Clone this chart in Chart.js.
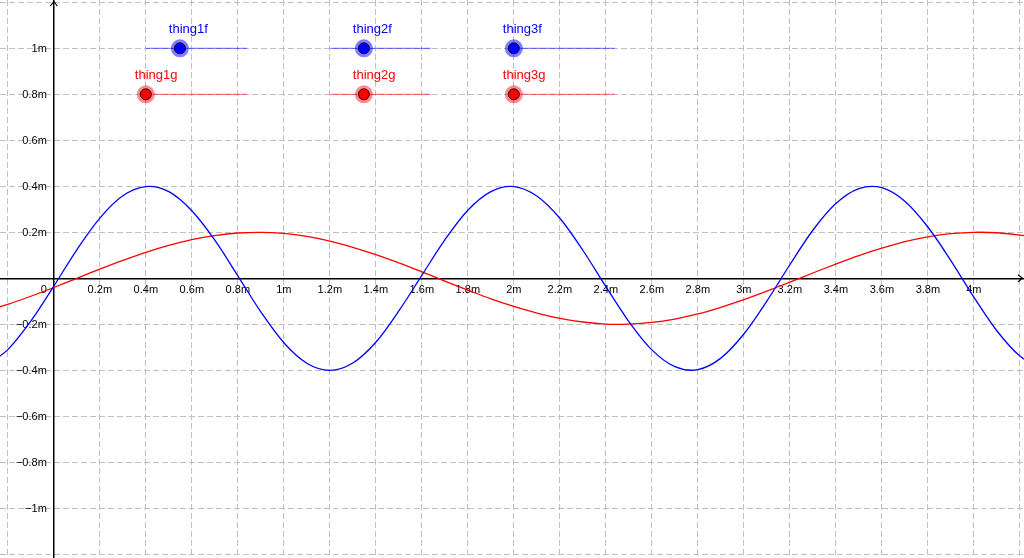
<!DOCTYPE html>
<html>
<head>
<meta charset="utf-8">
<script src="https://cdn.jsdelivr.net/npm/chart.js@4/dist/chart.umd.min.js"></script>
<style>
html, body { margin: 0; padding: 0; background: #fff; }
#wrap { width: 1024px; height: 558px; position: relative; }
</style>
</head>
<body>
<div id="wrap"><canvas id="graph"></canvas></div>
<script>
// samples
var xSamples = [-0.3, -0.2, -0.1, 0, 0.1, 0.2, 0.3, 0.4, 0.5, 0.6, 0.7, 0.8, 0.9, 1.0, 1.1, 1.2, 1.3, 1.4, 1.5, 1.6,
    1.7, 1.8, 1.9, 2.0, 2.1, 2.2, 2.3, 2.4, 2.5, 2.6, 2.7, 2.8, 2.9, 3.0, 3.1, 3.2, 3.3, 3.4, 3.5, 3.6,
    3.7, 3.8, 3.9, 4.0, 4.1, 4.2, 4.3];
var fValues = [-0.384, -0.310, -0.186, -0.034, 0.124, 0.262, 0.359, 0.399, 0.377, 0.294, 0.166, 0.011, -0.146, -0.280,
    -0.369, -0.400, -0.368, -0.278, -0.142, 0.013, 0.167, 0.296, 0.377, 0.399, 0.358, 0.261, 0.122, -0.036,
    -0.188, -0.311, -0.384, -0.397, -0.347, -0.242, -0.099, 0.059, 0.209, 0.325, 0.390, 0.394, 0.335, 0.223,
    0.077, -0.082, -0.228, -0.338, -0.395];
var gValues = [-0.143, -0.113, -0.078, -0.040, 0.000, 0.040, 0.078, 0.113, 0.143, 0.168, 0.186, 0.197, 0.200, 0.195,
    0.182, 0.162, 0.135, 0.103, 0.067, 0.028, -0.012, -0.051, -0.089, -0.122, -0.151, -0.174, -0.190, -0.199,
    -0.199, -0.192, -0.177, -0.155, -0.126, -0.093, -0.056, -0.017, 0.023, 0.062, 0.099, 0.131, 0.159, 0.180,
    0.194, 0.200, 0.198, 0.188, 0.171];

var xTicks = [-0.2, 0, 0.2, 0.4, 0.6, 0.8, 1, 1.2, 1.4, 1.6, 1.8, 2, 2.2, 2.4, 2.6, 2.8, 3, 3.2, 3.4, 3.6, 3.8, 4, 4.2];
var yTicks = [-1.2, -1, -0.8, -0.6, -0.4, -0.2, 0, 0.2, 0.4, 0.6, 0.8, 1, 1.2];

// sliders
var fSliderNames = ['thing1f', 'thing2f', 'thing3f'];
var gSliderNames = ['thing1g', 'thing2g', 'thing3g'];
var sliderStart = [0.4, 1.2, 2.0];
var sliderEnd = [0.839, 1.639, 2.439];
var fSliderPos = [0.548, 1.348, 2.0];
var gSliderPos = [0.4, 1.348, 2.0];
var fSliderLevel = 1.0;
var gSliderLevel = 0.8;

var xMin = -0.234, xMax = 4.218;
var yMin = -1.216, yMax = 1.210;

var BLUE = '#0000ff';
var RED = '#ff0000';

function toPoints(xs, ys) {
    return xs.map(function (x, i) { return {x: x, y: ys[i]}; });
}

function trackPoints(level) {
    var pts = [];
    sliderStart.forEach(function (s, i) {
        pts.push({x: s, y: level}, {x: sliderEnd[i], y: level}, {x: sliderEnd[i], y: null});
    });
    return pts;
}

function levelPoints(xs, level) {
    return xs.map(function (x) { return {x: x, y: level}; });
}

function tickLabel(v) {
    var r = Math.round(v * 10) / 10;
    if (r === 0) return '0';
    var s = String(Math.abs(r)) + 'm';
    return r < 0 ? '\u2212' + s : s;
}

var TICK_FONT = '11px "Liberation Sans", Arial, sans-serif';
var LABEL_FONT = '13px "Liberation Sans", Arial, sans-serif';

var axisDecor = {
    id: 'axisDecor',
    beforeDatasetsDraw: function (chart) {
        var ctx = chart.ctx;
        var xs = chart.scales.x, ys = chart.scales.y;
        var x0 = xs.getPixelForValue(0), y0 = ys.getPixelForValue(0);
        ctx.save();
        ctx.font = TICK_FONT;
        ctx.fillStyle = '#000';
        ctx.textAlign = 'center';
        xs.ticks.forEach(function (t) {
            if (Math.abs(t.value) < 1e-9) return;
            var label = tickLabel(t.value);
            var px = xs.getPixelForValue(t.value);
            var w = ctx.measureText(label).width;
            if (px - w / 2 < 0 || px + w / 2 > chart.width) return;
            ctx.fillText(label, px, y0 + 15);
        });
        ctx.textAlign = 'right';
        ys.ticks.forEach(function (t) {
            if (Math.abs(t.value) < 1e-9) return;
            var py = ys.getPixelForValue(t.value);
            if (py - 6 < 0 || py + 6 > chart.height) return;
            ctx.fillText(tickLabel(t.value), x0 - 7, py + 4);
        });
        ctx.fillText('0', x0 - 7, y0 + 15);

        // arrow heads
        ctx.strokeStyle = '#000';
        ctx.lineWidth = 1.2;
        ctx.beginPath();
        ctx.moveTo(x0 - 3.5, 6);
        ctx.lineTo(x0, 1.5);
        ctx.lineTo(x0 + 3.5, 6);
        ctx.moveTo(chart.width - 6, y0 - 3.5);
        ctx.lineTo(chart.width - 1.5, y0);
        ctx.lineTo(chart.width - 6, y0 + 3.5);
        ctx.stroke();
        ctx.restore();
    },
    afterDatasetsDraw: function (chart) {
        var ctx = chart.ctx;
        var xs = chart.scales.x, ys = chart.scales.y;
        ctx.save();
        ctx.font = LABEL_FONT;
        ctx.textAlign = 'left';
        ctx.fillStyle = BLUE;
        fSliderNames.forEach(function (name, i) {
            ctx.fillText(name, xs.getPixelForValue(fSliderPos[i]) - 11, ys.getPixelForValue(fSliderLevel) - 15);
        });
        ctx.fillStyle = RED;
        gSliderNames.forEach(function (name, i) {
            ctx.fillText(name, xs.getPixelForValue(gSliderPos[i]) - 11, ys.getPixelForValue(gSliderLevel) - 15);
        });
        ctx.restore();
    }
};

var ctx = document.getElementById('graph').getContext('2d');
var graph = new Chart(ctx, {
    type: 'line',
    data: {
        datasets: [
            {data: levelPoints(fSliderPos, fSliderLevel), showLine: false, pointRadius: 5.5, pointBorderWidth: 1,
                pointBackgroundColor: BLUE, pointBorderColor: '#000022', order: 0},
            {data: levelPoints(gSliderPos, gSliderLevel), showLine: false, pointRadius: 5.5, pointBorderWidth: 1,
                pointBackgroundColor: RED, pointBorderColor: '#220000', order: 0},
            {data: levelPoints(fSliderPos, fSliderLevel), showLine: false, pointRadius: 9, pointBorderWidth: 0,
                pointBackgroundColor: 'rgba(0,0,255,0.5)', order: 1},
            {data: levelPoints(gSliderPos, gSliderLevel), showLine: false, pointRadius: 9, pointBorderWidth: 0,
                pointBackgroundColor: 'rgba(255,0,0,0.45)', order: 1},
            {data: trackPoints(fSliderLevel), borderColor: 'rgba(0,0,255,0.6)', borderWidth: 1, pointRadius: 0,
                spanGaps: false, order: 2},
            {data: trackPoints(gSliderLevel), borderColor: 'rgba(255,0,0,0.6)', borderWidth: 1, pointRadius: 0,
                spanGaps: false, order: 2},
            {data: toPoints(xSamples, fValues), borderColor: BLUE, borderWidth: 1.3, pointRadius: 0,
                tension: 0.33, order: 3},
            {data: toPoints(xSamples, gValues), borderColor: RED, borderWidth: 1.3, pointRadius: 0,
                tension: 0.33, order: 3}
        ]
    },
    options: {
        responsive: true,
        maintainAspectRatio: false,
        animation: false,
        events: [],
        layout: {padding: 0, autoPadding: false},
        plugins: {legend: {display: false}, tooltip: {enabled: false}},
        scales: {
            x: {
                type: 'linear',
                position: {y: 0},
                min: xMin,
                max: xMax,
                afterBuildTicks: function (scale) {
                    scale.ticks = xTicks.map(function (v) { return {value: v}; });
                },
                ticks: {display: false},
                grid: {color: '#c0c0c0', lineWidth: 1, drawTicks: false},
                border: {display: true, color: '#000', width: 1.5, dash: [6, 3]}
            },
            y: {
                type: 'linear',
                position: {x: 0},
                min: yMin,
                max: yMax,
                afterBuildTicks: function (scale) {
                    scale.ticks = yTicks.map(function (v) { return {value: v}; });
                },
                ticks: {display: false},
                grid: {color: '#c0c0c0', lineWidth: 1, drawTicks: false},
                border: {display: true, color: '#000', width: 1.5, dash: [6, 3]}
            }
        }
    },
    plugins: [axisDecor]
});
</script>
</body>
</html>
